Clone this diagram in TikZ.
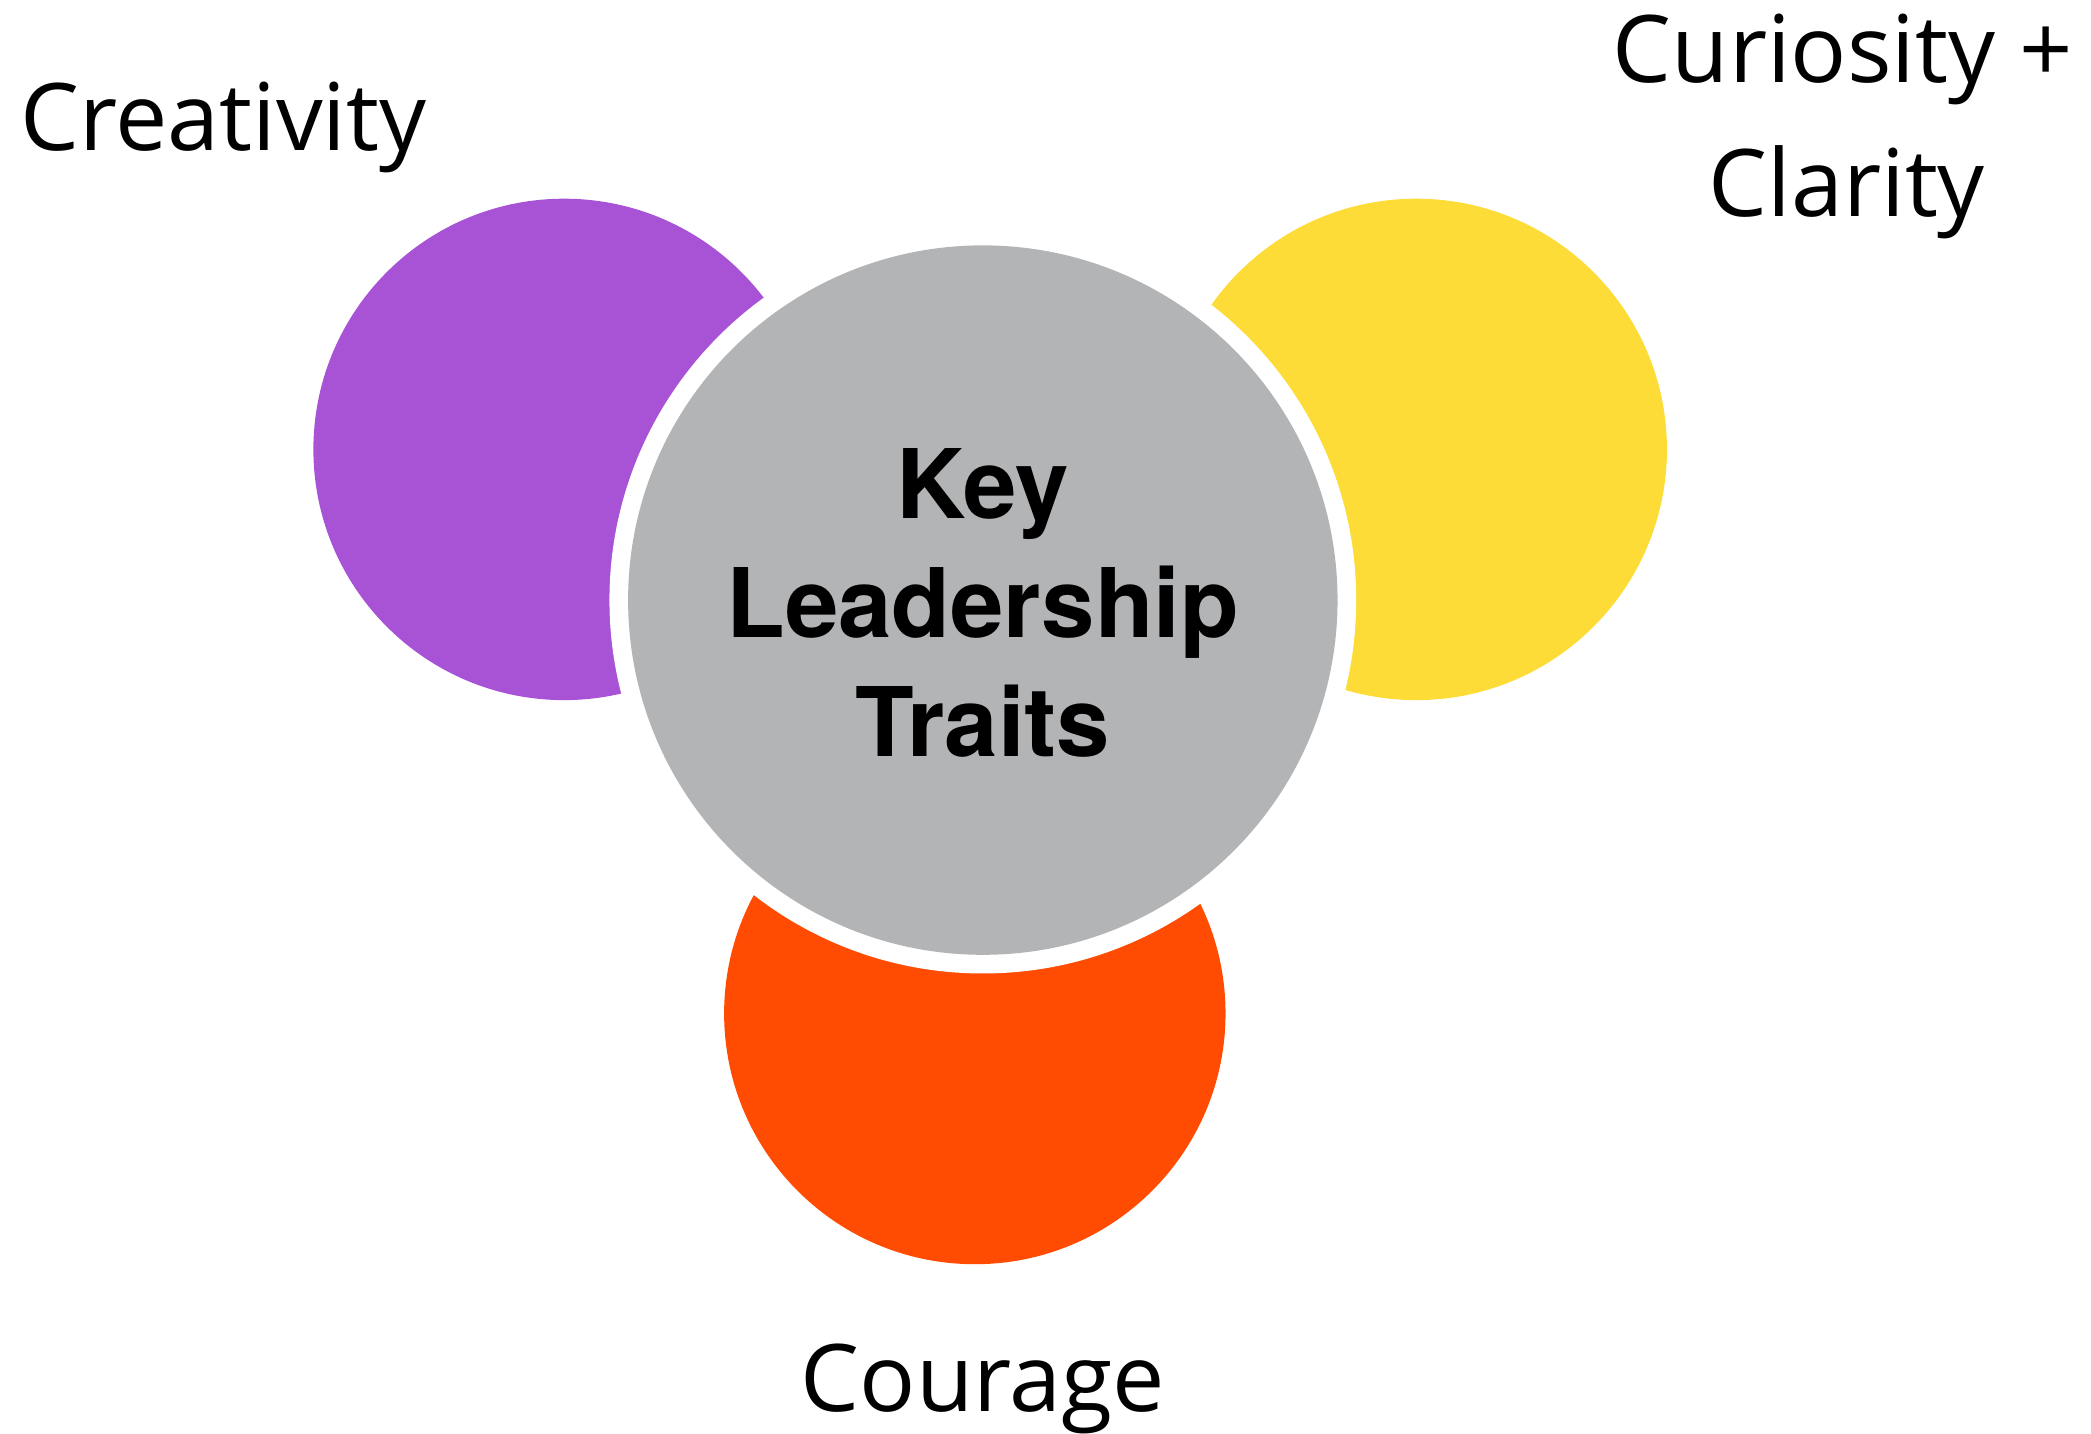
\documentclass[tikz,border=0pt]{standalone}
\usepackage{fontspec}
\setmainfont{Open Sans}
\newfontfamily\heros{TeX Gyre Heros}
\definecolor{cpurple}{HTML}{A852D6}
\definecolor{cyellow}{HTML}{FDDC37}
\definecolor{corange}{HTML}{FF4C02}
\definecolor{cgray}{HTML}{B3B4B6}
\begin{document}
\begin{tikzpicture}[x=0.5pt,y=0.5pt,
  trait/.style={circle,inner sep=0pt,minimum size=188pt},
  label/.style={inner sep=0pt,anchor=base,font=\fontsize{35}{50}\selectfont},
  core/.style={circle,inner sep=0pt,minimum size=266pt,fill=cgray},
  halo/.style={circle,inner sep=0pt,minimum size=280pt,fill=white}]
\useasboundingbox (0,0) rectangle (1568,-1075);
\node[trait,fill=cpurple] (creat) at (423,-337) {};
\node[trait,fill=cyellow] (curio) at (1062,-337) {};
\node[trait,fill=corange] (cour) at (731,-760) {};
\node[halo] (ring) at (737,-450) {};
\node[core] (key) at (737,-450) {};
\node[align=center,inner sep=0pt,font=\heros\bfseries\fontsize{36}{44.5}\selectfont] (keytxt) at ([yshift=-1pt]key.center) {Key\\Leadership\\Traits};
\node[label] (lcreat) at (167.5,-113) {Creativity};
\node[label] (lcur) at (1382,-62) {Curiosity +};
\node[label] (lcla) at (1385,-162.5) {Clarity};
\node[label] (lcour) at (737,-1058.6) {Courage};
\end{tikzpicture}
\end{document}
